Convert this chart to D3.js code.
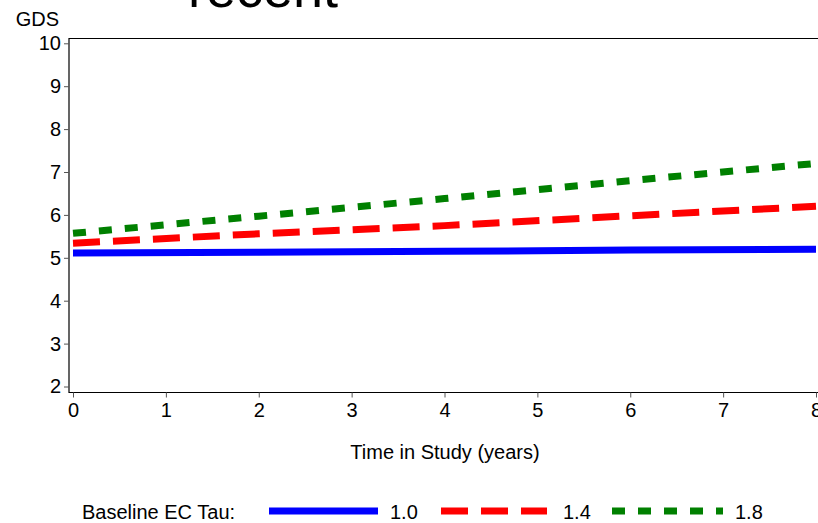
<!DOCTYPE html>
<html>
<head>
<meta charset="utf-8">
<script src="https://cdn.jsdelivr.net/npm/d3@7"></script>
<style>
    body { margin: 0; background: #fff; }
    svg { display: block; font-family: Arial, "Liberation Sans", sans-serif; }
</style>
</head>
<body>
<svg id="chart" width="818" height="523"></svg>
<script>
"use strict";

// Years in study
const years = [0, 2, 4, 6, 8];
// Predicted GDS per baseline EC tau group
const tau10 = [5.11, 5.13, 5.15, 5.18, 5.2];
const tau14 = [5.34, 5.56, 5.75, 5.98, 6.2];
const tau18 = [5.57, 5.97, 6.38, 6.8, 7.2];
const groupLabels = ["1.0", "1.4", "1.8"];
const yTicks = [2, 3, 4, 5, 6, 7, 8, 9, 10];
const xTicks = [0, 1, 2, 3, 4, 5, 6, 7, 8];

const series = [
    { label: groupLabels[0], values: tau10, color: "#0000ff", dash: null },
    { label: groupLabels[1], values: tau14, color: "#ff0000", dash: "27,13" },
    { label: groupLabels[2], values: tau18, color: "#008000", dash: "13,13" }
];

const FONT = 20;
const svg = d3.select("#chart");

const x = d3.scaleLinear().domain([0, 8]).range([73, 816]);
const y = d3.scaleLinear().domain([2, 10]).range([386.5, 43.3]);

const frame = { left: 69, top: 38.5, bottom: 392.5, right: 830 };

// title, cut off at the top of the picture
svg.append("text")
    .attr("x", 188)
    .attr("y", 7)
    .attr("font-size", 54)
    .text("recent");

// frame lines
svg.append("path")
    .attr("d", `M${frame.right},${frame.top}H${frame.left}V${frame.bottom}H${frame.right}`)
    .attr("fill", "none")
    .attr("stroke", "#000")
    .attr("stroke-width", 1.2);

// y axis
const yAxis = svg.append("g")
    .attr("transform", `translate(${frame.left},0)`)
    .call(d3.axisLeft(y).tickValues(yTicks).tickSize(5).tickPadding(3));
yAxis.select(".domain").remove();
yAxis.selectAll("text").attr("font-size", FONT).attr("font-family", null).attr("fill", "#000");
yAxis.selectAll("line").attr("stroke", "#555");

// x axis
const xAxis = svg.append("g")
    .attr("transform", `translate(0,${frame.bottom})`)
    .call(d3.axisBottom(x).tickValues(xTicks).tickSize(5).tickPadding(5));
xAxis.select(".domain").remove();
xAxis.selectAll("text").attr("font-size", FONT).attr("font-family", null).attr("fill", "#000");
xAxis.selectAll("line").attr("stroke", "#555");

svg.append("text")
    .attr("x", 59)
    .attr("y", 26)
    .attr("text-anchor", "end")
    .attr("font-size", FONT)
    .text("GDS");

svg.append("text")
    .attr("x", 445)
    .attr("y", 459)
    .attr("text-anchor", "middle")
    .attr("font-size", FONT)
    .text("Time in Study (years)");

// lines
const line = d3.line()
    .x((d, i) => x(years[i]))
    .y((d) => y(d));

svg.append("g")
    .selectAll("path")
    .data(series)
    .enter()
    .append("path")
    .attr("d", (d) => line(d.values))
    .attr("fill", "none")
    .attr("stroke", (d) => d.color)
    .attr("stroke-width", 7)
    .attr("stroke-dasharray", (d) => d.dash);

// legend
const legendY = 511;
svg.append("text")
    .attr("x", 82)
    .attr("y", 519)
    .attr("font-size", FONT)
    .text("Baseline EC Tau:");

const legendItems = [
    { x1: 269, x2: 378, tx: 390 },
    { x1: 441, x2: 547, tx: 563 },
    { x1: 612, x2: 723, tx: 735 }
];

const legend = svg.append("g")
    .selectAll("g")
    .data(series)
    .enter()
    .append("g");
legend.append("line")
    .attr("x1", (d, i) => legendItems[i].x1)
    .attr("x2", (d, i) => legendItems[i].x2)
    .attr("y1", legendY)
    .attr("y2", legendY)
    .attr("stroke", (d) => d.color)
    .attr("stroke-width", 7)
    .attr("stroke-dasharray", (d) => d.dash);
legend.append("text")
    .attr("x", (d, i) => legendItems[i].tx)
    .attr("y", 519)
    .attr("font-size", FONT)
    .text((d) => d.label);
</script>
</body>
</html>
